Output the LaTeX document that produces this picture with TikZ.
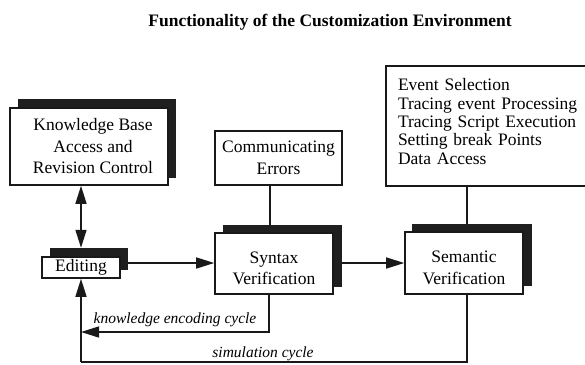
\documentclass[tikz,border=0pt]{standalone}
\usepackage{fontspec}
\setmainfont{Liberation Serif}
\usetikzlibrary{arrows.meta}
\begin{document}
\begin{tikzpicture}[x=1pt,y=-1pt,
  every node/.style={font=\fontsize{17.5}{21.5}\selectfont},
  box/.style={draw=black!90,line width=1.6pt,fill=white,inner sep=2pt,align=center},
  shade/.style={fill=black!88,inner sep=0pt},
  link/.style={line width=1.5pt,draw=black!90},
  tip/.tip={Triangle[length=18pt,width=11pt]},
  arr/.style={link,-tip},
  dbl/.style={link,tip-tip},
  cyc/.style={font=\fontsize{15.5}{18}\selectfont\itshape}]
\useasboundingbox (0,0) rectangle (585,364);

% title
\node[font=\fontsize{17.5}{20}\selectfont\bfseries] (title) at (330,22)
  {Functionality of the Customization Environment};

% shadows sit behind the boxes, shifted up and to the right
\node[shade,minimum width=158,minimum height=79] (kbS) at (97,138.5) {};
\node[shade,minimum width=78,minimum height=22] (edS) at (89,259) {};
\node[shade,minimum width=119,minimum height=62] (synS) at (282.5,256) {};
\node[shade,minimum width=120,minimum height=62] (semS) at (472,255) {};

% boxes
\node[box,minimum width=158,minimum height=77] (kb) at (89,146.5)
  {\hspace*{8pt}Knowledge Base\\\hspace*{8pt}Access and\\\hspace*{8pt}Revision Control};
\node[box,minimum width=127,minimum height=54] (ce) at (278.5,158)
  {Communicating\\Errors};
% the event list runs off the right edge, so only three sides are drawn
\node[box,draw=none,minimum width=224,minimum height=118,inner xsep=10pt,text width=202pt,
      align=left,font=\fontsize{17.5}{18.4}\selectfont] (ev) at (499,126)
  {Event Selection\\Tracing event Processing\\Tracing Script Execution\\Setting break Points\\Data Access\rule[-9pt]{0pt}{9pt}};
\draw[draw=black!90,line width=1.6pt]
  (ev.north east) -- (ev.north west) -- (ev.south west) -- (ev.south east);
\node[box,minimum width=78,minimum height=21] (ed) at (81,267.5) {Editing};
\node[box,minimum width=118,minimum height=61] (syn) at (274,263.5)
  {\rule{0pt}{21pt}Syntax\\Verification};
\node[box,minimum width=118,minimum height=62] (sem) at (464,263)
  {\rule{0pt}{21pt}Semantic\\Verification};

% routing coordinates
\coordinate (ay) at (0,263);
\coordinate (cx) at (270,0);
\coordinate (kx) at (269,0);
\coordinate (sx) at (467,0);
\coordinate (kc) at (0,332);
\coordinate (bl) at (0,362);

% connectors
\draw[dbl] (ed.north |- kb.south) -- (ed.north |- edS.north);
\draw[arr] (edS.east |- ay) -- (syn.west |- ay);
\draw[arr] (synS.east |- ay) -- (sem.west |- ay);
\draw[link] (ce.south -| cx) -- (synS.north -| cx);
\draw[link] (ev.south -| sx) -- (semS.north -| sx);
\draw[arr] (syn.south -| kx) |- (ed.south |- kc);
\draw[link] (sem.south -| sx) |- (ed.south |- bl);
\draw[arr] (ed.south |- bl) -- (ed.south);

% cycle labels
\node[cyc] (kl) at (175,320) {knowledge encoding cycle};
\node[cyc] (sl) at (263,354) {simulation cycle};
\end{tikzpicture}
\end{document}
